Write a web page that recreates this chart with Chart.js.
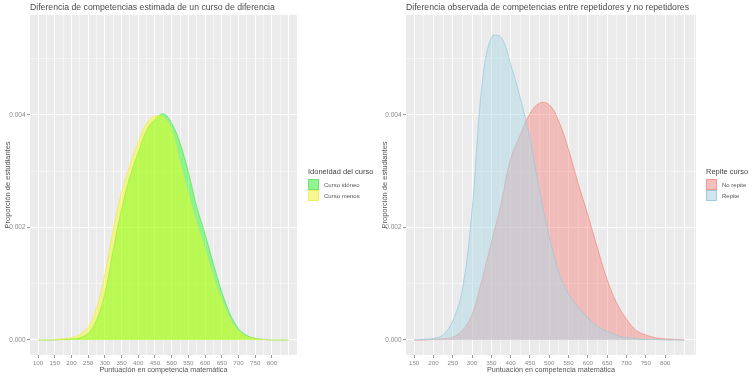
<!DOCTYPE html>
<html>
<head>
<meta charset="utf-8">
<script src="https://cdn.jsdelivr.net/npm/chart.js@4"></script>
<style>
  body { margin: 0; background: #fff; font-family: "Liberation Sans", Arial, sans-serif; }
  #wrap { position: relative; width: 754px; height: 377px; overflow: hidden; }
  .panel { position: absolute; top: 0; width: 377px; height: 377px; }
  .lg { position: absolute; color: #444; }
  .lg .ttl { font-size: 7.5px; margin-bottom: 3px; }
  .lg .row { display: flex; align-items: center; height: 11px; }
  .lg .key { width: 9px; height: 9px; border: 1px solid; background-color: #f2f2f2; position: relative; }
  .lg .key span { position: absolute; inset: 0; }
  .lg .lbl { font-size: 6px; margin-left: 5px; color: #555; }
</style>
</head>
<body>
<div id="wrap">
  <div class="panel" style="left:0"><canvas id="leftChart" width="377" height="377"></canvas></div>
  <div class="panel" style="left:377px"><canvas id="rightChart" width="377" height="377"></canvas></div>

  <div class="lg" style="left:308px; top:167px;">
    <div class="ttl">Idoneidad del curso</div>
    <div class="row"><div class="key" style="border-color:rgba(60,220,60,0.7)"><span style="background:rgba(0,255,0,0.4)"></span></div><div class="lbl">Curso idóneo</div></div>
    <div class="row"><div class="key" style="border-color:rgba(235,235,60,0.8)"><span style="background:rgba(255,255,0,0.4)"></span></div><div class="lbl">Curso menos</div></div>
  </div>
  <div class="lg" style="left:706px; top:167px;">
    <div class="ttl">Repite curso</div>
    <div class="row"><div class="key" style="border-color:rgba(240,130,120,0.8)"><span style="background:rgba(248,118,109,0.4)"></span></div><div class="lbl">No repite</div></div>
    <div class="row"><div class="key" style="border-color:rgba(150,200,220,0.9)"><span style="background:rgba(173,216,230,0.5)"></span></div><div class="lbl">Repite</div></div>
  </div>
</div>

<script>
// puntuación (eje x) para el panel izquierdo
const scoresLeft = [100, 125, 150, 175, 200, 225, 250, 275, 300, 325, 350, 375, 400, 425, 450, 475,
    500, 525, 550, 575, 600, 625, 650, 675, 700, 725, 750, 775, 800, 825, 850];
const cursoIdoneo = [0, 0, 0, 0.00001, 0.00002, 0.00004, 0.00012, 0.00035, 0.00083, 0.00160, 0.00232, 0.00290,
    0.00333, 0.00373, 0.00392, 0.00402, 0.00385, 0.00350, 0.00298, 0.00237, 0.00188, 0.00135, 0.00085,
    0.00046, 0.00020, 0.00008, 0.00003, 0.00001, 0, 0, 0];
const cursoMenos = [0, 0, 0.00001, 0.00002, 0.00004, 0.00010, 0.00023, 0.00057, 0.00116, 0.00196, 0.00262, 0.00310,
    0.00352, 0.00385, 0.00398, 0.00396, 0.00372, 0.00314, 0.00258, 0.00206, 0.00160, 0.00110, 0.00070,
    0.00036, 0.00016, 0.00006, 0.00002, 0.00001, 0, 0, 0];

// puntuación para el panel derecho
const scoresRight = [150, 175, 200, 225, 250, 275, 300, 325, 350, 375, 400, 425, 450, 475, 500, 525,
    550, 575, 600, 625, 650, 675, 700, 725, 750, 775, 800, 825, 850];
const noRepite = [0, 0, 0.00001, 0.00002, 0.00005, 0.00017, 0.00045, 0.00105, 0.00173, 0.00242, 0.00322, 0.00365,
    0.00402, 0.00421, 0.00418, 0.00388, 0.00338, 0.00278, 0.00222, 0.00163, 0.00107, 0.00065, 0.00037,
    0.00017, 0.00009, 0.00004, 0.00002, 0.00001, 0];
const repite = [0, 0.00001, 0.00003, 0.00009, 0.00034, 0.00090, 0.00230, 0.00447, 0.00538, 0.00538, 0.00490,
    0.00430, 0.00358, 0.00265, 0.00184, 0.00120, 0.00082, 0.00058, 0.00039, 0.00024, 0.00015, 0.00008,
    0.00004, 0.00002, 0.00001, 0.00001, 0, 0, 0];

const xTickLabels = [100, 150, 200, 250, 300, 350, 400, 450, 500, 550, 600, 650, 700, 750, 800];
const yTickLabels = [0, 0.002, 0.004];

const panelBg = {
    id: 'panelBg',
    beforeDraw(chart) {
        const {ctx, chartArea: a} = chart;
        ctx.save();
        ctx.fillStyle = '#ebebeb';
        ctx.fillRect(a.left, a.top, a.right - a.left, a.bottom - a.top);
        ctx.restore();
    }
};

function pairs(xs, ys) {
    return xs.map((x, i) => ({x: x, y: ys[i]}));
}

function buildChart(canvasId, cfg) {
    const ctx = document.getElementById(canvasId).getContext('2d');
    return new Chart(ctx, {
        type: 'line',
        data: { datasets: cfg.datasets },
        plugins: [panelBg],
        options: {
            responsive: false,
            animation: false,
            layout: { autoPadding: false, padding: { right: cfg.padRight, top: 0, left: 0, bottom: 0 } },
            elements: { point: { radius: 0 }, line: { tension: 0.4, borderWidth: 0.8 } },
            plugins: {
                legend: { display: false },
                tooltip: { enabled: false },
                title: {
                    display: true,
                    text: cfg.title,
                    align: 'start',
                    fullSize: false,
                    color: '#4a4a4a',
                    font: { family: 'Liberation Sans', size: 8.7, weight: 'normal' },
                    padding: { top: 2.5, bottom: 2 }
                }
            },
            scales: {
                x: {
                    type: 'linear',
                    min: cfg.xMin,
                    max: cfg.xMax,
                    afterFit: (s) => { s.height = 22; },
                    afterBuildTicks: (s) => {
                        const t = [];
                        for (let v = 100; v <= 875; v += 25) {
                            if (v >= cfg.xMin && v <= cfg.xMax) t.push({value: v});
                        }
                        s.ticks = t;
                    },
                    grid: {
                        color: '#ffffff',
                        lineWidth: (c) => (c.tick && c.tick.value % 50 === 0 ? 1 : 0.5),
                        tickLength: 3,
                        tickColor: (c) => (c.tick && xTickLabels.includes(c.tick.value) && c.tick.value >= cfg.firstLabel ? '#999' : 'rgba(0,0,0,0)'),
                        drawOnChartArea: true
                    },
                    border: { display: false },
                    ticks: {
                        autoSkip: false,
                        maxRotation: 0,
                        padding: 1.5,
                        color: '#888',
                        font: { family: 'Liberation Sans', size: 6.2 },
                        callback: (v) => (xTickLabels.includes(v) && v >= cfg.firstLabel ? String(v) : '')
                    },
                    title: {
                        display: true,
                        text: 'Puntuación en competencia matemática',
                        color: '#555',
                        font: { family: 'Liberation Sans', size: 7.2 },
                        padding: { top: 0, bottom: 2.5 }
                    }
                },
                y: {
                    type: 'linear',
                    min: -0.000267,
                    max: 0.005778,
                    afterFit: (s) => { s.width = cfg.yWidth; },
                    afterBuildTicks: (s) => {
                        s.ticks = [0, 0.001, 0.002, 0.003, 0.004, 0.005].map(v => ({value: v}));
                    },
                    grid: {
                        color: '#ffffff',
                        lineWidth: (c) => (c.tick && Math.round(c.tick.value * 1000) % 2 === 0 ? 1 : 0.5),
                        tickLength: 3,
                        tickColor: (c) => (c.tick && Math.round(c.tick.value * 1000) % 2 === 0 ? '#999' : 'rgba(0,0,0,0)')
                    },
                    border: { display: false },
                    ticks: {
                        padding: 1.5,
                        color: '#888',
                        font: { family: 'Liberation Sans', size: 6.5 },
                        callback: (v) => {
                            const hit = yTickLabels.find(t => Math.abs(t - v) < 1e-9);
                            return hit !== undefined ? hit.toFixed(3) : '';
                        }
                    },
                    title: {
                        display: true,
                        text: 'Proporción de estudiantes',
                        color: '#555',
                        font: { family: 'Liberation Sans', size: 7.5 },
                        padding: { top: 3.5, bottom: 0 }
                    }
                }
            }
        }
    });
}

buildChart('leftChart', {
    title: 'Diferencia de competencias estimada de un curso de diferencia',
    xMin: 76, xMax: 875, yWidth: 30, padRight: 80, firstLabel: 100,
    datasets: [
        {
            label: 'Curso idóneo',
            data: pairs(scoresLeft, cursoIdoneo),
            order: 1,
            fill: 'origin',
            backgroundColor: 'rgba(0,255,0,0.4)',
            borderColor: 'rgba(60,225,60,0.7)'
        },
        {
            label: 'Curso menos',
            data: pairs(scoresLeft, cursoMenos),
            order: 0,
            fill: 'origin',
            backgroundColor: 'rgba(255,255,0,0.4)',
            borderColor: 'rgba(235,235,70,0.8)'
        }
    ]
});

buildChart('rightChart', {
    title: 'Diferencia observada de competencias entre repetidores y no repetidores',
    xMin: 129, xMax: 880, yWidth: 29, padRight: 58, firstLabel: 150,
    datasets: [
        {
            label: 'No repite',
            data: pairs(scoresRight, noRepite),
            order: 1,
            fill: 'origin',
            backgroundColor: 'rgba(248,118,109,0.4)',
            borderColor: 'rgba(240,130,120,0.85)'
        },
        {
            label: 'Repite',
            data: pairs(scoresRight, repite),
            order: 0,
            fill: 'origin',
            backgroundColor: 'rgba(173,216,230,0.5)',
            borderColor: 'rgba(150,200,222,0.9)'
        }
    ]
});
</script>
</body>
</html>
